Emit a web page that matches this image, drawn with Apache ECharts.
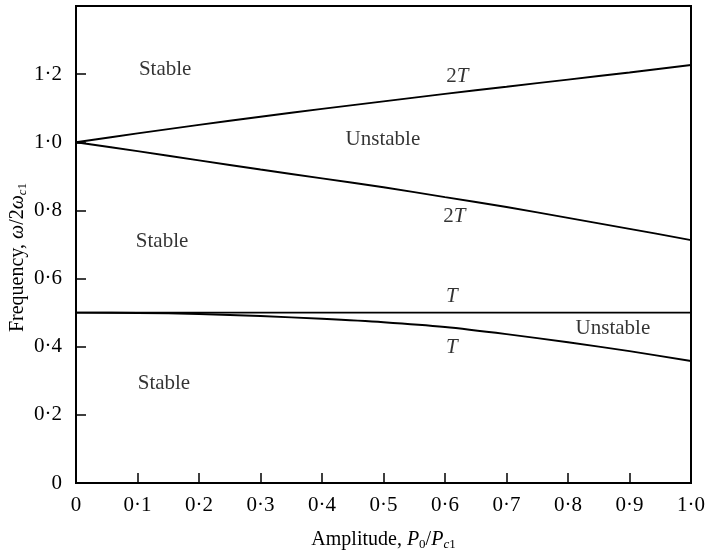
<!DOCTYPE html>
<html>
<head>
<meta charset="utf-8">
<script src="https://cdn.jsdelivr.net/npm/echarts@6/dist/echarts.min.js"></script>
<style>
  html, body { margin: 0; padding: 0; background: #fff; }
  #chart { width: 705px; height: 555px; }
</style>
</head>
<body>
<div id="chart"></div>
<script>
// Amplitude values P0/Pc1 where the boundaries are sampled
const amplitude = [0, 0.1, 0.2, 0.3, 0.4, 0.5, 0.6, 0.7, 0.8, 0.9, 1.0];

// Boundaries of the instability regions (frequency ω/2ωc1)
const upper2T = [1.0, 1.026, 1.051, 1.075, 1.098, 1.12, 1.142, 1.163, 1.184, 1.205, 1.227];
const lower2T = [1.0, 0.974, 0.947, 0.92, 0.894, 0.868, 0.839, 0.81, 0.778, 0.746, 0.713];
const upperT  = [0.5, 0.5, 0.5, 0.5, 0.5, 0.5, 0.5, 0.5, 0.5, 0.5, 0.5];
const lowerT  = [0.5, 0.499, 0.496, 0.49, 0.482, 0.472, 0.458, 0.437, 0.413, 0.387, 0.358];

// Region annotations: [x, y, text]
const regionLabels = [
  [0.145, 1.214, 'Stable'],
  [0.62, 1.193, '2T'],
  [0.499, 1.008, 'Unstable'],
  [0.615, 0.782, '2T'],
  [0.14, 0.708, 'Stable'],
  [0.611, 0.547, 'T'],
  [0.873, 0.453, 'Unstable'],
  [0.611, 0.397, 'T'],
  [0.143, 0.291, 'Stable']
];

const FONT = '"Liberation Serif", "Times New Roman", serif';

function tickText(v) {
  if (Math.abs(v) < 1e-9) return '0';
  return v.toFixed(1).replace('.', '\u00b7');
}

function pairs(ys) {
  return amplitude.map((x, i) => [x, ys[i]]);
}

function curve(ys) {
  return {
    type: 'line',
    data: pairs(ys),
    smooth: 0.3,
    symbol: 'none',
    lineStyle: { color: '#000', width: 1.9 },
    silent: true,
    z: 3
  };
}

function richLabel(text) {
  // italic period symbol, upright words
  if (text.indexOf('T') >= 0) {
    return text.replace('T', '{i|T}');
  }
  return text;
}

const chart = echarts.init(document.getElementById('chart'), null, { renderer: 'canvas' });

const subStyle = { fontFamily: FONT, fontSize: 13, color: '#000', verticalAlign: 'bottom', padding: [10, 0, 0, 0] };
const subItalic = Object.assign({}, subStyle, { fontStyle: 'italic' });

chart.setOption({
  animation: false,
  backgroundColor: '#fff',
  textStyle: { fontFamily: FONT, color: '#000' },
  grid: {
    left: 76, right: 14, top: 6, bottom: 72,
    containLabel: false,
    outerBoundsMode: 'none',
    show: true, borderColor: '#000', borderWidth: 2
  },
  xAxis: {
    type: 'value',
    min: 0, max: 1, interval: 0.1,
    axisLine: { show: true, lineStyle: { color: '#000', width: 2 } },
    axisTick: { show: true, inside: true, length: 10, lineStyle: { color: '#000', width: 1.5 } },
    splitLine: { show: false },
    axisLabel: {
      color: '#000', fontFamily: FONT, fontSize: 21, margin: 12,
      formatter: tickText
    },
    name: 'Amplitude, {i|P}{s|0}/{i|P}{si|c}{s|1}',
    nameLocation: 'middle',
    nameGap: 45,
    nameTextStyle: {
      color: '#000', fontFamily: FONT, fontSize: 20,
      rich: {
        i: { fontFamily: FONT, fontStyle: 'italic', fontSize: 20, color: '#000' },
        s: subStyle,
        si: subItalic
      }
    }
  },
  yAxis: {
    type: 'value',
    min: 0, max: 1.4, interval: 0.2,
    axisLine: { show: true, lineStyle: { color: '#000', width: 2 } },
    axisTick: { show: true, inside: true, length: 10, lineStyle: { color: '#000', width: 1.5 } },
    splitLine: { show: false },
    axisLabel: {
      color: '#000', fontFamily: FONT, fontSize: 21, margin: 14,
      formatter: v => (v > 1.3 ? '' : tickText(v))
    },
    name: 'Frequency, {i|ω}/2{i|ω}{si|c}{s|1}',
    nameLocation: 'middle',
    nameMoveOverlap: false,
    nameGap: 47,
    nameRotate: 90,
    nameTextStyle: {
      color: '#000', fontFamily: FONT, fontSize: 20,
      padding: [0, 26, 0, 0],
      rich: {
        i: { fontFamily: FONT, fontStyle: 'italic', fontSize: 20, color: '#000' },
        s: subStyle,
        si: subItalic
      }
    }
  },
  series: [
    curve(upper2T),
    curve(lower2T),
    curve(upperT),
    curve(lowerT),
    {
      type: 'scatter',
      data: regionLabels.map(d => ({ value: [d[0], d[1]], name: d[2] })),
      symbolSize: 0,
      silent: true,
      z: 4,
      label: {
        show: true,
        position: 'inside',
        formatter: p => richLabel(p.name),
        color: '#000',
        fontFamily: FONT,
        fontSize: 21,
        rich: {
          i: { fontFamily: FONT, fontStyle: 'italic', fontSize: 21, color: '#000' }
        }
      }
    }
  ]
});
</script>
</body>
</html>
